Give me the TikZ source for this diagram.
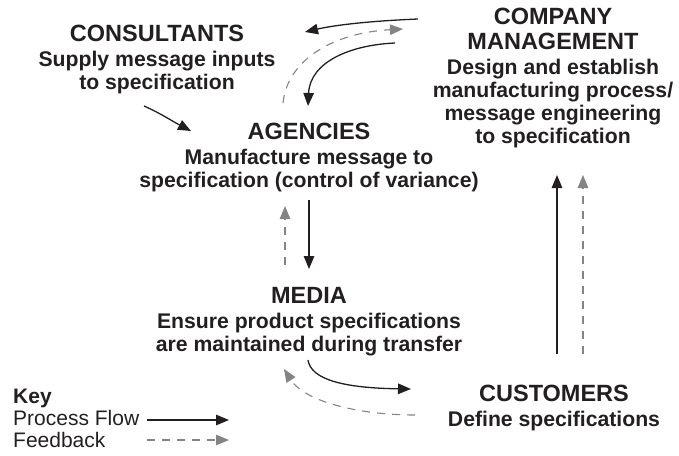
\documentclass[tikz,border=0pt]{standalone}
\usepackage{fontspec}
\setmainfont{Liberation Sans}
\usetikzlibrary{arrows.meta}
\definecolor{ink}{RGB}{35,31,32}
\definecolor{fbgray}{RGB}{132,132,132}
\newcommand\bigttl[1]{{\fontsize{23.5}{25}\selectfont #1}}
\begin{document}
\begin{tikzpicture}[x=1pt,y=-1pt,
  box/.style={align=center, inner sep=0pt, anchor=north, text=ink, font=\bfseries\fontsize{21.2}{23}\selectfont},
  keytext/.style={align=left, inner sep=0pt, anchor=north west, text=ink, font=\fontsize{21}{22}\selectfont},
  flow/.style={draw=ink, line width=1.3pt, -{Triangle[length=13pt,width=10.5pt]}},
  fb/.style={draw=fbgray, line width=1.1pt, dash pattern=on 8pt off 7pt, -{Triangle[length=13pt,width=10.5pt]}}]
\useasboundingbox (0,0) rectangle (679,455);

\node[box] (cons) at (157,25) {\bigttl{CONSULTANTS}\\[2pt]Supply message inputs\\to specification};
\node[box] (comp) at (553,8) {\bigttl{COMPANY}\\[2pt]\bigttl{MANAGEMENT}\\[2pt]Design and establish\\manufacturing process/\\message engineering\\to specification};
\node[box] (agen) at (309,123) {\bigttl{AGENCIES}\\[2pt]Manufacture message to\\specification (control of variance)};
\node[box] (media) at (309,287) {\bigttl{MEDIA}\\[2pt]Ensure product specifications\\are maintained during transfer};
\node[box] (cust) at (554,385) {\bigttl{CUSTOMERS}\\[2pt]Define specifications};
\node[keytext] (key) at (13,389) {{\bfseries Key}\\Process Flow\\Feedback};

% connector end points
\coordinate (c1s) at (418,19);   \coordinate (c1e) at (305,32);
\coordinate (c2s) at (283,103);  \coordinate (c2e) at (403,29);
\coordinate (c3s) at (395,43);   \coordinate (c3e) at (308,106);
\coordinate (c4s) at (144,106);  \coordinate (c4e) at (191,131);
\coordinate (c5s) at (309,200);  \coordinate (c5e) at (309,269);
\coordinate (c6s) at (285,265);  \coordinate (c6e) at (285,206);
\coordinate (c7s) at (308,360);  \coordinate (c7e) at (411,389);
\coordinate (c8s) at (415,415);  \coordinate (c8e) at (284,369);
\coordinate (c9s) at (557,354);  \coordinate (c9e) at (557,175);
\coordinate (c10s) at (583,354); \coordinate (c10e) at (583,175);
\coordinate (k1s) at (147,420);  \coordinate (k1e) at (229,420);
\coordinate (k2s) at (147,440);  \coordinate (k2e) at (229,440);

\draw[flow] (c1s) .. controls (370,21) and (335,25) .. (c1e);
\draw[fb] (c2s) .. controls (287,62) and (330,33) .. (c2e);
\draw[flow] (c3s) .. controls (350,45) and (310,62) .. (c3e);
\draw[flow] (c4s) .. controls (160,113) and (172,121) .. (c4e);
\draw[flow] (c5s) -- (c5e);
\draw[fb] (c6s) -- (c6e);
\draw[flow] (c7s) .. controls (311,380) and (345,388) .. (c7e);
\draw[fb] (c8s) .. controls (360,415) and (305,402) .. (c8e);
\draw[flow] (c9s) -- (c9e);
\draw[fb] (c10s) -- (c10e);
\draw[flow] (k1s) -- (k1e);
\draw[fb] (k2s) -- (k2e);
\end{tikzpicture}
\end{document}
